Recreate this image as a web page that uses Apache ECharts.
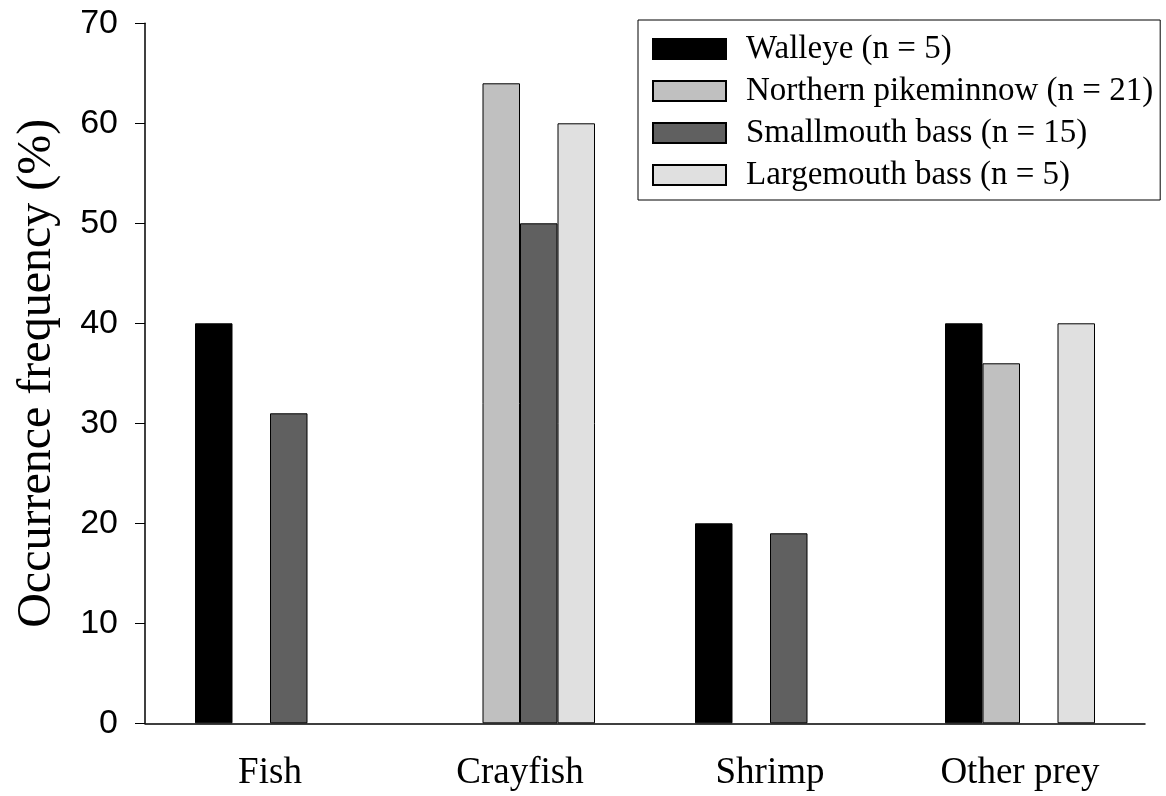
<!DOCTYPE html>
<html>
<head>
<meta charset="utf-8">
<title>Occurrence frequency of prey</title>
<script src="https://cdn.jsdelivr.net/npm/echarts@6/dist/echarts.min.js"></script>
<style>
  html, body { margin: 0; padding: 0; background: #ffffff; }
  #chart { width: 1166px; height: 796px; }
</style>
</head>
<body>
<div id="chart"></div>
<script>
// Prey categories along the x axis
const categories = ['Fish', 'Crayfish', 'Shrimp', 'Other prey'];

// Occurrence frequency (%) of each prey type, per predator
const walleye = [40, 0, 20, 40];
const northernPikeminnow = [0, 64, 0, 36];
const smallmouthBass = [31, 50, 19, 0];
const largemouthBass = [0, 60, 0, 40];

const seriesNames = [
  'Walleye (n = 5)',
  'Northern pikeminnow (n = 21)',
  'Smallmouth bass (n = 15)',
  'Largemouth bass (n = 5)'
];
const seriesColors = ['#000000', '#c0c0c0', '#606060', '#e0e0e0'];
const seriesValues = [walleye, northernPikeminnow, smallmouthBass, largemouthBass];

// Y axis range
const yMin = 0;
const yMax = 70;
const yStep = 10;

const serif = '"Liberation Serif", "Times New Roman", serif';
const sans = '"Liberation Sans", Arial, sans-serif';

const chart = echarts.init(document.getElementById('chart'), null, { renderer: 'canvas' });

// Zero-height bars carry no outline so nothing is stroked along the baseline
function barData(values) {
  return values.map(v => v === 0 ? { value: v, itemStyle: { borderWidth: 0 } } : v);
}

chart.setOption({
  backgroundColor: '#ffffff',
  animation: false,
  grid: { left: 145, right: 21, top: 23.3, bottom: 72.7, containLabel: false },
  legend: {
    orient: 'vertical',
    left: 638,
    top: 20,
    padding: [12.5, 7, 8.5, 14],
    borderColor: '#000000',
    borderWidth: 1,
    backgroundColor: '#ffffff',
    itemWidth: 73,
    itemHeight: 20,
    itemGap: 9,
    icon: 'rect',
    selectedMode: false,
    textStyle: {
      fontFamily: serif,
      fontSize: 33,
      color: '#000000',
      padding: [0, 0, 0, 15]
    },
    data: seriesNames
  },
  xAxis: {
    type: 'category',
    data: categories,
    axisLine: { lineStyle: { color: '#000000', width: 1.5 } },
    axisTick: { alignWithLabel: true, length: 10, lineStyle: { color: '#000000', width: 1 } },
    axisLabel: { fontFamily: serif, fontSize: 37, color: '#000000', margin: 31 }
  },
  yAxis: {
    type: 'value',
    min: yMin,
    max: yMax,
    interval: yStep,
    name: 'Occurrence frequency (%)',
    nameLocation: 'middle',
    nameGap: 84,
    nameTextStyle: { fontFamily: serif, fontSize: 48, color: '#000000' },
    splitLine: { show: false },
    axisLine: { show: true, lineStyle: { color: '#000000', width: 1.5 } },
    axisTick: { show: true, length: 10, lineStyle: { color: '#000000', width: 1 } },
    axisLabel: { fontFamily: sans, fontSize: 34, color: '#000000', margin: 27 }
  },
  series: seriesNames.map((name, i) => ({
    name: name,
    type: 'bar',
    data: barData(seriesValues[i]),
    barGap: '0%',
    barCategoryGap: '40%',
    itemStyle: { color: seriesColors[i], borderColor: '#000000', borderWidth: 1 }
  }))
});
</script>
</body>
</html>
